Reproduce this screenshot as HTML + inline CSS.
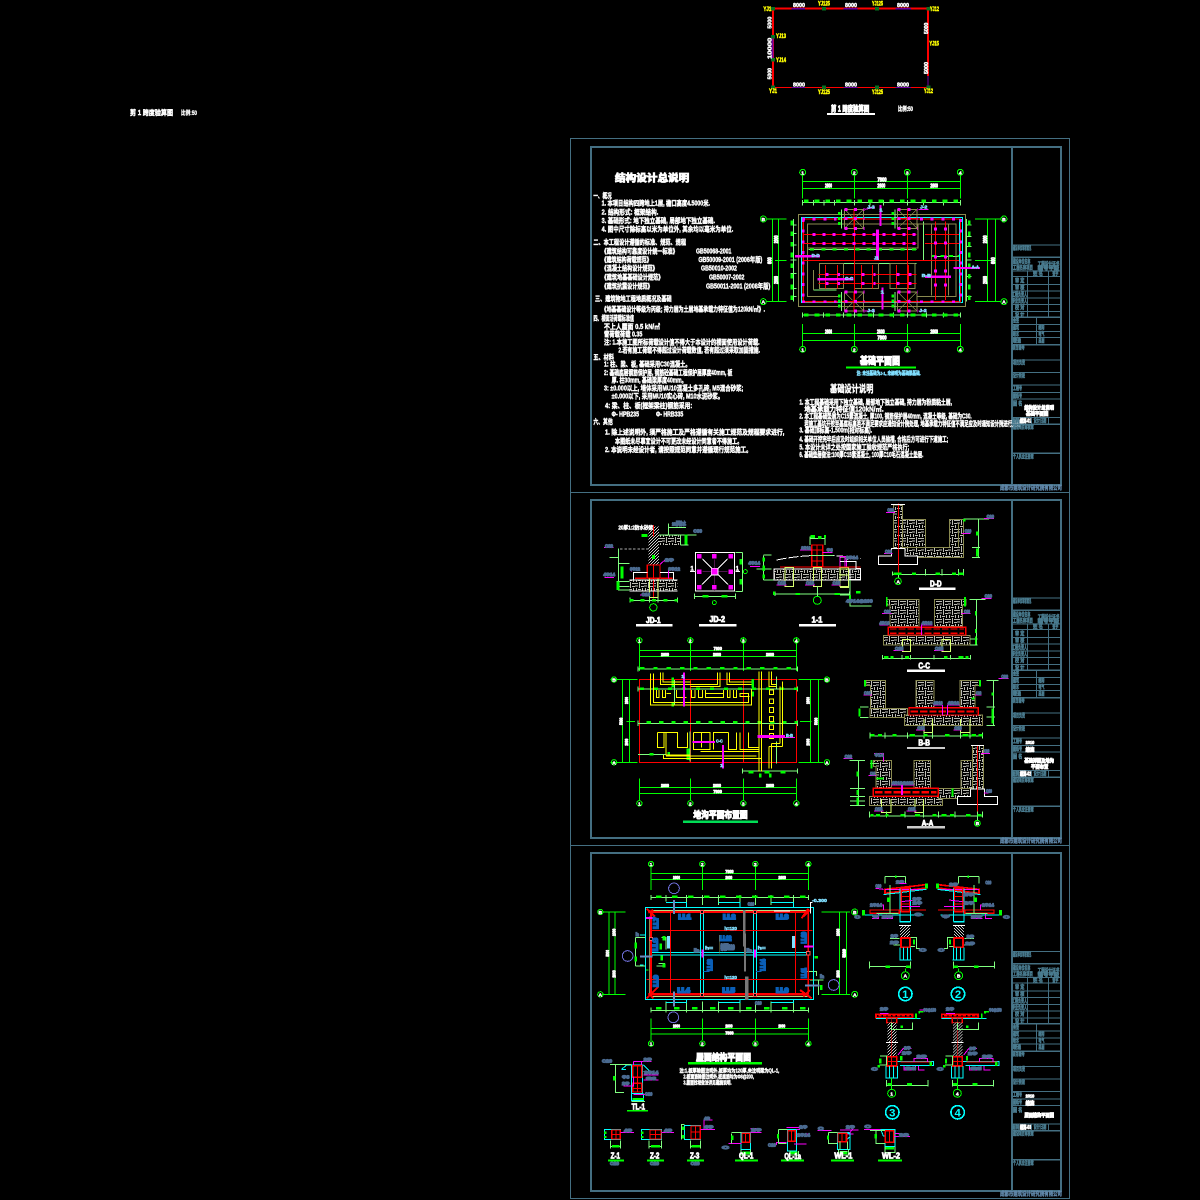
<!DOCTYPE html>
<html><head><meta charset="utf-8"><title>结构施工图</title>
<style>
html,body{margin:0;padding:0;background:#000;width:1200px;height:1200px;overflow:hidden}
svg{display:block;shape-rendering:crispEdges}
text{font-family:"Liberation Sans","Noto Sans CJK SC",sans-serif;font-weight:700}
.w{fill:#fff;stroke:#fff;stroke-width:1.3}
.wb{fill:#fff;stroke:#fff;stroke-width:2.5}
.y{fill:#ff0;stroke:#ff0;stroke-width:1.5;font-size:18px}
.bg{fill:#4a6a90;stroke:#4a6a90;stroke-width:3.5;font-size:15px}
.lb{fill:#80dfff;stroke:#80dfff;stroke-width:1.6;font-size:15px}
.bl{fill:#0a5fb8;stroke:#0a5fb8;stroke-width:6;font-size:18px}
.tb{fill:#4a7c90;stroke:#4a7c90;stroke-width:1.6;font-size:17px}
.gl{stroke:#0f0;stroke-width:3;fill:none}
.lg{stroke:#80ff80;stroke-width:3;fill:none}
.r{stroke:#f00;stroke-width:3;fill:none}
.m{stroke:#f0f;stroke-width:3;fill:none}
.c{stroke:#0ff;stroke-width:3;fill:none}
.ye{stroke:#ff0;stroke-width:3;fill:none}
.ol{stroke:#8a8a50;stroke-width:3;fill:none}
.wl{stroke:#fff;stroke-width:3;fill:none}
.yl{stroke:#d8ff70;stroke-width:3;fill:none}
</style></head><body>
<svg xmlns="http://www.w3.org/2000/svg" width="1200" height="1200" viewBox="0 0 1200 1200">
<defs>
<pattern id="h" width="27" height="27" patternUnits="userSpaceOnUse">
<rect width="27" height="27" fill="#000"/>
<path d="M0 2h9v3h-9zM12 0h3v9h-3zM18 3h9v3h-9zM3 9h3v9h-3zM9 12h9v3h-9zM21 9h3v9h-3zM0 21h9v3h-9zM12 18h3v9h-3zM18 21h9v3h-9z" fill="#c0c0b8"/>
</pattern>
<pattern id="d" width="9" height="9" patternUnits="userSpaceOnUse">
<rect width="9" height="9" fill="#000"/><path d="M0 0h3v3h-3zM6 3h3v3h-3zM3 6h3v3h-3z" fill="#ccc"/>
</pattern>
<g id="ft">
<rect x="0" y="0" width="58" height="57" class="ol"/>
<path d="M0 0L58 57M58 0L0 57" stroke="#8a8a50" stroke-width="2"/>
<path d="M29 -2V60M-2 28H60" class="r"/>
<path d="M0 0H60M0 28H60M0 57H60" stroke="#f0f" stroke-width="9" stroke-dasharray="9 20"/>
<path d="M-15 8V50" stroke="#0f0" stroke-width="7" stroke-dasharray="9 6"/>
<path d="M-8 0V57" class="lg"/>
</g>
<g id="det1">
<path d="M135 118L258 104V114L135 130Z" fill="#000" stroke="#f00" stroke-width="5"/>
<path d="M135 118H258" stroke="#f0f" stroke-width="3"/>
<path d="M130 134L260 118" class="c"/>
<rect x="183" y="115" width="27" height="70" fill="none" stroke="#f00" stroke-width="5"/>
<path d="M183 140H210M183 162H210" class="r"/>
<path d="M180 115V215M212 115V215M178 215H212" class="c"/>
<path d="M90 180H178V190H90ZM178 180H258" stroke="#f00" stroke-width="4" fill="none"/>
<path d="M66 195H250" class="c"/>
<path d="M90 165H130V180M96 205H116V190M125 205H158V195M185 170H240M185 155L225 150" class="m"/>
<path d="M135 80H197M135 80V100M197 80V100M150 105V190M110 190H175" class="lg"/>
<path d="M165 80H170" stroke="#0f0" stroke-width="8"/>
<path d="M146 142V156M260 100V115M70 180V196" stroke="#0f0" stroke-width="9"/>
<rect x="180" y="226" width="30" height="38" fill="url(#d)"/>
<path d="M177 226H213" class="wl"/>
<rect x="183" y="264" width="27" height="28" fill="none" stroke="#f00" stroke-width="5"/>
<path d="M180 292V330M190 292V330M202 292V330M212 292V330M178 330H214M178 216H212" class="c"/>
<path d="M150 265H178M160 285H180M212 262H230V295H240M212 290H225" class="lg"/>
<path d="M222 268V284" stroke="#0f0" stroke-width="7"/>
<path d="M88 335V355M212 335V355M88 350H212" class="lg"/>
<path d="M136 350H150M198 350H212" stroke="#0f0" stroke-width="7"/>
<circle cx="196" cy="377" r="12" class="gl"/>
<path d="M196 355V365" class="gl"/>
</g>
<g id="det3">
<path d="M108 493H218V503H108Z" fill="none" stroke="#f00" stroke-width="5"/>
<path d="M115 497H218" stroke="#f00" stroke-width="5" stroke-dasharray="10 4"/>
<path d="M108 506H242" class="c"/>
<path d="M228 491V505M238 491V485H250" stroke="#0f0" stroke-width="5"/>
<rect x="140" y="503" width="30" height="15" fill="none" stroke="#f00" stroke-width="4"/>
<rect x="142" y="518" width="28" height="60" fill="url(#d)"/>
<rect x="142" y="582" width="28" height="38" fill="url(#d)"/>
<path d="M138 577H174" class="wl"/>
<path d="M155 500V620" stroke="#f00" stroke-width="2"/>
<rect x="141" y="620" width="29" height="28" fill="none" stroke="#f00" stroke-width="5"/>
<path d="M141 634H170M155 620V648" class="r"/>
<path d="M138 648V684M148 648V684M160 648V684M172 648V684M136 684H174" class="c"/>
<path d="M172 634H280V646H180" class="c"/>
<path d="M182 636H275" stroke="#f00" stroke-width="4"/>
<path d="M222 636V625H262V636M192 648V660H226V648M235 648V660H254M174 615L190 595H214" class="m"/>
<path d="M120 618H140V645H118M155 518V538H218V518" class="lg"/>
<path d="M185 526V534M121 625V640M116 645V652M272 636V648M184 618V632" stroke="#0f0" stroke-width="7"/>
<path d="M140 690V710M264 690V710M140 706H264" class="lg"/>
<path d="M142 703H155M201 703H216" stroke="#0f0" stroke-width="7"/>
<path d="M155 684V718" class="gl"/>
<circle cx="155" cy="730" r="12" class="gl"/>
</g>
</defs>

<rect width="1200" height="1200" fill="#000"/>

<!-- sheet frames -->
<g fill="none" stroke="#446f82">
<rect x="570.5" y="138.5" width="499" height="1060"/>
<path d="M570 492.5H1070M570 845.5H1070"/>
<g stroke-width="2">
<rect x="591" y="147" width="470" height="338"/><path d="M1012 147V485"/>
<rect x="591" y="500" width="470" height="338"/><path d="M1012 500V838"/>
<rect x="591" y="853" width="470" height="338"/><path d="M1012 853V1191"/>
</g>
</g>
<g font-size="6" fill="#5f86a8">
<text x="1000" y="490" textLength="62" lengthAdjust="spacingAndGlyphs" stroke="#5f86a8" stroke-width=".4">成都市建筑设计研究院有限公司</text>
<text x="1000" y="843" textLength="62" lengthAdjust="spacingAndGlyphs" stroke="#5f86a8" stroke-width=".4">成都市建筑设计研究院有限公司</text>
<text x="1000" y="1196" textLength="62" lengthAdjust="spacingAndGlyphs" stroke="#5f86a8" stroke-width=".4">成都市建筑设计研究院有限公司</text>
</g>

<!-- top span diagram -->
<text x="130" y="115" font-size="7" class="w" style="stroke-width:.4" textLength="43" lengthAdjust="spacingAndGlyphs">剪 1 跨度验算图</text>
<text x="181" y="115" font-size="6" class="w" style="stroke-width:.3" textLength="16" lengthAdjust="spacingAndGlyphs">比例:50</text>
<g transform="translate(750,0) scale(.3333)">
<path d="M69 26H534M69 26V262M534 26V228" stroke="#f00" stroke-width="6" fill="none"/>
<path d="M69 262H534" stroke="#f00" stroke-width="3"/>
<path d="M534 228V262" stroke="#7000a0" stroke-width="4"/>
<path d="M125 26H165M280 26H322M437 26H483" stroke="#7000a0" stroke-width="5"/>
<path d="M125 262H165M280 262H322M437 262H483" stroke="#7000a0" stroke-width="3"/>
<path d="M68 112V175" stroke="#7000a0" stroke-width="6"/>
<path d="M63 26h12M216 26h12M375 26h12M529 26h12M63 110h12M63 179h12M63 262h12M216 262h12M375 262h12M529 262h12" stroke="#087020" stroke-width="10"/>
<g font-size="17">
<text x="129" y="21" class="w" textLength="36" lengthAdjust="spacingAndGlyphs">8000</text>
<text x="285" y="21" class="w" textLength="36" lengthAdjust="spacingAndGlyphs">8000</text>
<text x="441" y="21" class="w" textLength="36" lengthAdjust="spacingAndGlyphs">8000</text>
<text x="129" y="259" class="w" textLength="36" lengthAdjust="spacingAndGlyphs">8000</text>
<text x="285" y="259" class="w" textLength="36" lengthAdjust="spacingAndGlyphs">8000</text>
<text x="441" y="259" class="w" textLength="36" lengthAdjust="spacingAndGlyphs">8000</text>
<text x="64" y="86" class="w" transform="rotate(-90 64 86)" textLength="36" lengthAdjust="spacingAndGlyphs">5000</text>
<text x="64" y="177" class="w" transform="rotate(-90 64 177)" textLength="64" lengthAdjust="spacingAndGlyphs">10000</text>
<text x="65" y="238" class="w" transform="rotate(-90 65 238)" textLength="34" lengthAdjust="spacingAndGlyphs">5000</text>
<text x="534" y="102" class="w" transform="rotate(-90 534 102)" textLength="34" lengthAdjust="spacingAndGlyphs">5000</text>
<text x="534" y="222" class="w" transform="rotate(-90 534 222)" textLength="36" lengthAdjust="spacingAndGlyphs">5000</text>
</g>
<text x="40" y="33" class="y" textLength="24" lengthAdjust="spacingAndGlyphs">YJ1</text>
<text x="204" y="16" class="y" textLength="36" lengthAdjust="spacingAndGlyphs">YJ125</text>
<text x="366" y="16" class="y" textLength="33" lengthAdjust="spacingAndGlyphs">YJ125</text>
<text x="540" y="33" class="y" textLength="27" lengthAdjust="spacingAndGlyphs">YJ12</text>
<text x="78" y="114" class="y" textLength="30" lengthAdjust="spacingAndGlyphs">YJ13</text>
<text x="78" y="186" class="y" textLength="30" lengthAdjust="spacingAndGlyphs">YJ14</text>
<text x="538" y="136" class="y" textLength="29" lengthAdjust="spacingAndGlyphs">YJ15</text>
<text x="57" y="279" class="y" textLength="24" lengthAdjust="spacingAndGlyphs">YJ1</text>
<text x="204" y="282" class="y" textLength="36" lengthAdjust="spacingAndGlyphs">YJ125</text>
<text x="366" y="282" class="y" textLength="33" lengthAdjust="spacingAndGlyphs">YJ125</text>
<text x="522" y="279" class="y" textLength="27" lengthAdjust="spacingAndGlyphs">YJ12</text>
<text x="243" y="334" font-size="24" class="wb" textLength="115" lengthAdjust="spacingAndGlyphs">剪 1 跨度验算图</text>
<text x="444" y="333" font-size="18" class="w" textLength="45" lengthAdjust="spacingAndGlyphs">比例:50</text>
<path d="M231 342H375" stroke="#fff" stroke-width="5"/>
</g>

<!-- sheet 1: text -->
<g transform="translate(570,138) scale(.3333)" font-size="21" class="w">
<text x="135" y="130" font-size="30" class="wb" textLength="223" lengthAdjust="spacingAndGlyphs">结构设计总说明</text>
<text x="70" y="180" textLength="55" lengthAdjust="spacingAndGlyphs">一、概况</text>
<text x="95" y="203" textLength="325" lengthAdjust="spacingAndGlyphs">1. 本项目结构四跨地上1层, 檐口高度4.5000米.</text>
<text x="95" y="230" textLength="170" lengthAdjust="spacingAndGlyphs">2. 结构形式: 框架结构.</text>
<text x="95" y="255" textLength="340" lengthAdjust="spacingAndGlyphs">3. 基础形式: 地下独立基础, 局部地下独立基础.</text>
<text x="95" y="281" textLength="395" lengthAdjust="spacingAndGlyphs">4. 图中尺寸除标高以米为单位外, 其余均以毫米为单位.</text>
<text x="70" y="319" textLength="278" lengthAdjust="spacingAndGlyphs">二、本工程设计遵循的标准、规范、规程</text>
<text x="95" y="346" textLength="228" lengthAdjust="spacingAndGlyphs">《建筑结构可靠度设计统一标准》</text>
<text x="378" y="346" textLength="106" lengthAdjust="spacingAndGlyphs">GB50068-2001</text>
<text x="95" y="372" textLength="150" lengthAdjust="spacingAndGlyphs">《建筑结构荷载规范》</text>
<text x="385" y="372" textLength="192" lengthAdjust="spacingAndGlyphs">GB50009-2001 (2006年版)</text>
<text x="95" y="398" textLength="168" lengthAdjust="spacingAndGlyphs">《混凝土结构设计规范》</text>
<text x="393" y="398" textLength="108" lengthAdjust="spacingAndGlyphs">GB50010-2002</text>
<text x="95" y="425" textLength="185" lengthAdjust="spacingAndGlyphs">《建筑地基基础设计规范》</text>
<text x="417" y="425" textLength="106" lengthAdjust="spacingAndGlyphs">GB50007-2002</text>
<text x="95" y="452" textLength="153" lengthAdjust="spacingAndGlyphs">《建筑抗震设计规范》</text>
<text x="408" y="452" textLength="193" lengthAdjust="spacingAndGlyphs">GB50011-2001 (2008年版)</text>
<text x="75" y="489" textLength="230" lengthAdjust="spacingAndGlyphs">三、建筑物地工程地质概况及基础</text>
<text x="95" y="520" textLength="490" lengthAdjust="spacingAndGlyphs">《地基基础设计等级为丙级; 持力层为土层地基承载力特征值为120kN/㎡》.</text>
<text x="70" y="548" textLength="122" lengthAdjust="spacingAndGlyphs">四、楼面活荷载标准值</text>
<text x="102" y="573" textLength="168" lengthAdjust="spacingAndGlyphs">不上人屋面  0.5 kN/㎡</text>
<text x="102" y="595" textLength="115" lengthAdjust="spacingAndGlyphs">雪荷载荷载  0.35</text>
<text x="102" y="619" textLength="467" lengthAdjust="spacingAndGlyphs">注:  1.本施工图所标荷载设计值不得大于本设计的楼面使用设计荷载.</text>
<text x="145" y="644" textLength="425" lengthAdjust="spacingAndGlyphs">2.若有施工荷载不得超过设计荷载数值, 若有超过须采取加固措施.</text>
<text x="70" y="664" textLength="62" lengthAdjust="spacingAndGlyphs">五、材料</text>
<text x="102" y="686" textLength="260" lengthAdjust="spacingAndGlyphs">1: 柱、梁、板, 基础采用C30混凝土。</text>
<text x="102" y="711" textLength="385" lengthAdjust="spacingAndGlyphs">2: 基础底层钢筋保护层, 钢筋砼基础工程保护层厚度40mm, 板</text>
<text x="125" y="734" textLength="225" lengthAdjust="spacingAndGlyphs">厚. 柱30mm, 基础梁厚度40mm。</text>
<text x="102" y="757" textLength="418" lengthAdjust="spacingAndGlyphs">3: ±0.000以上, 墙体采用MU10混凝土多孔砖, M5混合砂浆;</text>
<text x="125" y="782" textLength="335" lengthAdjust="spacingAndGlyphs">±0.000以下, 采用MU10实心砖, M10水泥砂浆。</text>
<text x="105" y="810" textLength="262" lengthAdjust="spacingAndGlyphs">4: 梁、柱、板(框架梁柱)钢筋采用:</text>
<text x="125" y="835" textLength="82" lengthAdjust="spacingAndGlyphs">Φ- HPB235</text>
<text x="258" y="835" textLength="82" lengthAdjust="spacingAndGlyphs">Φ- HRB335</text>
<text x="70" y="858" textLength="58" lengthAdjust="spacingAndGlyphs">六、其他</text>
<text x="105" y="890" textLength="538" lengthAdjust="spacingAndGlyphs">1.  除上述说明外, 须严格施工及严格遵循有关施工规范及规程要求进行,</text>
<text x="135" y="916" textLength="382" lengthAdjust="spacingAndGlyphs">本图纸未尽事宜设计不可更改未经设计同意者不得施工。</text>
<text x="105" y="942" textLength="440" lengthAdjust="spacingAndGlyphs">2.  本说明未经设计者, 请按照规范同意并遵循现行规范施工。</text>
</g>

<!-- sheet 1: plan -->
<g transform="translate(750,150) scale(.3333)">
<path d="M158 75V145M313 75V145M472 75V145M631 75V145M158 95H631M158 115H631M158 522V590M313 522V590M472 522V590M631 522V590M158 550H631M158 572H631M50 207H110M50 455H110M67 207V455M85 207V455M75 331H110M675 207H752M675 455H752M712 207V455M736 207V455M675 331H735" class="gl"/>
<path d="M158 158H631M158 495H631M130 207V455M650 207V455M175 298H500M520 215V330M545 320H630M190 420H260M215 340H500" class="lg"/>
<path d="M158 150V166M190 150V166M222 150V166M254 150V166M313 150V166M360 150V166M400 150V166M472 150V166M520 150V166M580 150V166M631 150V166M158 488V502M220 488V502M280 488V502M313 488V502M370 488V502M430 488V502M472 488V502M530 488V502M580 488V502M631 488V502M122 225H140M122 250H140M122 285H140M122 330H140M122 370H140M122 415H140M122 440H140M650 225H664M650 260H664M650 290H664M650 330H664M650 380H664M650 440H664" class="lg"/>
<path d="M162 153H631" stroke="#0f0" stroke-width="8" stroke-dasharray="14 18"/>
<path d="M162 495H631" stroke="#0f0" stroke-width="8" stroke-dasharray="14 18"/>
<path d="M125 212V450" stroke="#0f0" stroke-width="8" stroke-dasharray="14 18"/>
<path d="M658 212V450" stroke="#0f0" stroke-width="8" stroke-dasharray="14 18"/>
<path d="M180 298H500" stroke="#0f0" stroke-width="7" stroke-dasharray="12 22"/>
<path d="M545 318H630" stroke="#0f0" stroke-width="7" stroke-dasharray="12 14"/>
<rect x="145" y="193" width="502" height="277" class="ol"/>
<rect x="172" y="222" width="332" height="72" class="ol"/>
<path d="M172 294V440H270M500 440H618V222H504M545 222V437M596 222V437M190 360V420" class="ol"/>
<rect x="208" y="340" width="72" height="75" class="ol"/>
<rect x="313" y="340" width="72" height="75" class="ol"/>
<rect x="420" y="340" width="75" height="75" class="ol"/>
<path d="M160 253H500M525 253H630M160 281H500M525 281H630M160 331H630M205 373H500M205 400H500M226 345V415M262 345V415M335 345V415M367 345V415M439 345V415M475 345V415M313 210V450M472 210V450M556 215V450M586 215V450" class="r"/>
<rect x="155" y="203" width="482" height="255" class="c"/>
<rect x="160" y="207" width="471" height="248" fill="none" stroke="#f00" stroke-width="4"/>
<path d="M628 207V455" stroke="#0ff" stroke-width="3"/>
<use href="#ft" x="283" y="178"/><use href="#ft" x="443" y="178"/><use href="#ft" x="283" y="426"/><use href="#ft" x="443" y="426"/>
<path d="M188 253H500M188 281H500" stroke="#f0f" stroke-width="9" stroke-dasharray="9 21"/>
<path d="M226 373H270M226 400H270M334 373H376M334 400H376M439 373H484M439 400H484" stroke="#f0f" stroke-width="9" stroke-dasharray="9 27"/>
<path d="M556 232V430M586 232V430" stroke="#f0f" stroke-width="9" stroke-dasharray="9 33"/>
<path d="M156 207H260M510 207H630M156 455H260M510 455H630M160 207V455M632 207V455" stroke="#f0f" stroke-width="8" stroke-dasharray="9 23"/>
<path d="M135 319H210M202 388H310M610 354H690M525 380H603" stroke="#f0f" stroke-width="7"/>
<path d="M382 238V330" stroke="#f0f" stroke-width="9"/>
<path d="M392 165V228M398 412V478" stroke="#f0f" stroke-width="6"/>
<path d="M345 178L375 172M505 178H535M345 483H375M505 483H530" class="m"/>
<g class="lb">
<text x="185" y="321" textLength="24" lengthAdjust="spacingAndGlyphs">D-D</text>
<text x="285" y="390" textLength="25" lengthAdjust="spacingAndGlyphs">C-C</text>
<text x="515" y="381" textLength="28" lengthAdjust="spacingAndGlyphs">B-B</text>
<text x="665" y="355" textLength="22" lengthAdjust="spacingAndGlyphs">A-A</text>
<text x="352" y="175" textLength="22" lengthAdjust="spacingAndGlyphs">J-2</text>
<text x="510" y="175" textLength="22" lengthAdjust="spacingAndGlyphs">J-2</text>
<text x="352" y="486" textLength="22" lengthAdjust="spacingAndGlyphs">J-2</text>
<text x="508" y="486" textLength="22" lengthAdjust="spacingAndGlyphs">J-2</text>
<text x="372" y="328" textLength="14" lengthAdjust="spacingAndGlyphs">J1</text>
<text x="388" y="185" textLength="10" lengthAdjust="spacingAndGlyphs">1</text>
<text x="392" y="430" textLength="10" lengthAdjust="spacingAndGlyphs">1</text>
</g>
<g class="gl">
<circle cx="158" cy="67" r="9"/><circle cx="313" cy="67" r="9"/><circle cx="472" cy="67" r="9"/><circle cx="631" cy="67" r="9"/>
<circle cx="158" cy="598" r="9"/><circle cx="313" cy="598" r="9"/><circle cx="472" cy="598" r="9"/><circle cx="631" cy="598" r="9"/>
<circle cx="40" cy="207" r="9"/><circle cx="40" cy="455" r="9"/><circle cx="762" cy="207" r="9"/><circle cx="762" cy="455" r="9"/>
</g>
<g font-size="15" class="w" text-anchor="middle">
<text x="158" y="73">1</text><text x="313" y="73">2</text><text x="472" y="73">3</text><text x="631" y="73">4</text>
<text x="158" y="604">1</text><text x="313" y="604">2</text><text x="472" y="604">3</text><text x="631" y="604">4</text>
<text x="40" y="213">B</text><text x="40" y="461">A</text><text x="762" y="213">B</text><text x="762" y="461">A</text>
</g>
<g font-size="16" class="wb">
<text x="382" y="94" textLength="28" lengthAdjust="spacingAndGlyphs">7800</text>
<text x="225" y="113" textLength="21" lengthAdjust="spacingAndGlyphs">2600</text>
<text x="382" y="113" textLength="24" lengthAdjust="spacingAndGlyphs">2600</text>
<text x="541" y="113" textLength="23" lengthAdjust="spacingAndGlyphs">2600</text>
<text x="225" y="550" textLength="21" lengthAdjust="spacingAndGlyphs">2600</text>
<text x="381" y="550" textLength="23" lengthAdjust="spacingAndGlyphs">2600</text>
<text x="541" y="550" textLength="23" lengthAdjust="spacingAndGlyphs">2600</text>
<text x="382" y="569" textLength="28" lengthAdjust="spacingAndGlyphs">7800</text>
<text x="84" y="280" transform="rotate(-90 84 280)" textLength="24" lengthAdjust="spacingAndGlyphs">2000</text>
<text x="84" y="402" transform="rotate(-90 84 402)" textLength="24" lengthAdjust="spacingAndGlyphs">2000</text>
<text x="65" y="342" transform="rotate(-90 65 342)" textLength="20" lengthAdjust="spacingAndGlyphs">600</text>
<text x="711" y="280" transform="rotate(-90 711 280)" textLength="24" lengthAdjust="spacingAndGlyphs">2000</text>
<text x="711" y="402" transform="rotate(-90 711 402)" textLength="24" lengthAdjust="spacingAndGlyphs">2000</text>
<text x="735" y="342" transform="rotate(-90 735 342)" textLength="20" lengthAdjust="spacingAndGlyphs">600</text>
</g>
<text x="330" y="643" font-size="30" class="wb" style="stroke-width:3" textLength="120" lengthAdjust="spacingAndGlyphs">基础平面图</text>
<path d="M288 653H498" stroke="#0f0" stroke-width="6"/>
<text x="320" y="675" font-size="19" class="lb" textLength="192" lengthAdjust="spacingAndGlyphs">注: 未注基础为J-1, 未标明为基础梁基础.</text>
<text x="240" y="728" font-size="30" class="w" textLength="130" lengthAdjust="spacingAndGlyphs">基础设计说明</text>
<g font-size="21" class="w">
<text x="148" y="763" textLength="458" lengthAdjust="spacingAndGlyphs">1. 本工程基础采用下独立基础, 局部地下独立基础, 持力层为粉质黏土层,</text>
<text x="163" y="784" textLength="238" lengthAdjust="spacingAndGlyphs">地基承载力特征值120kN/㎡.</text>
<text x="148" y="806" textLength="517" lengthAdjust="spacingAndGlyphs">2. 本工程基础垫层为C15素混凝土, 厚100, 钢筋保护层40mm, 混凝土等级, 基础为C30.</text>
<text x="163" y="828" textLength="650" lengthAdjust="spacingAndGlyphs">若施工基坑开挖至基底标高若不满足要求应通知设计院处理, 地基承载力特征值不满足应及时通知设计院进行处理</text>
<text x="148" y="848" textLength="218" lengthAdjust="spacingAndGlyphs">3. 基础顶标高-1.500m(相对标高).</text>
<text x="148" y="874" textLength="447" lengthAdjust="spacingAndGlyphs">4. 基础开挖完毕后应及时组织相关单位人员验槽, 合格后方可进行下道施工;</text>
<text x="148" y="898" textLength="330" lengthAdjust="spacingAndGlyphs">5. 本设计未详之处按国家施工验收规范严格执行;</text>
<text x="148" y="921" textLength="372" lengthAdjust="spacingAndGlyphs">6. 基础垫层做法:100厚C15素混凝土, 100厚C10毛石混凝土垫层.</text>
</g>
</g>

<!-- title blocks -->
<g transform="translate(1005,230) scale(.3333)">
<path d="M18 45H165M18 123H165M18 140H165M18 163H165M18 183H165M18 204H165M18 224H165M18 244H165M18 283H165M18 304H165M18 323H165M18 390H165M18 427H165M18 465H165M18 487H165M18 507H165M18 563H165M67 123V262M130 123V262M94 262V344M42 563V583M80 563V583M130 563V583" stroke="#446f82" stroke-width="3" fill="none"/>
<path d="M18 82H165M18 262H165M18 344H165M18 583H165M18 670H165" stroke="#446f82" stroke-width="5" fill="none"/>
<g class="tb">
<text x="24" y="60" textLength="55" lengthAdjust="spacingAndGlyphs">建设单位审核意见</text>
<text x="24" y="100" textLength="52" lengthAdjust="spacingAndGlyphs">建设单位名称</text>
<text x="24" y="118" textLength="60" lengthAdjust="spacingAndGlyphs">工程名称项目</text>
<text x="98" y="108" textLength="65" lengthAdjust="spacingAndGlyphs">工程设计证书</text>
<text x="98" y="120" textLength="65" lengthAdjust="spacingAndGlyphs">编号甲级</text>
<text x="84" y="137" textLength="30" lengthAdjust="spacingAndGlyphs">姓 名</text>
<text x="142" y="137" textLength="18" lengthAdjust="spacingAndGlyphs">签字</text>
<text x="30" y="158" textLength="28" lengthAdjust="spacingAndGlyphs">审 定</text>
<text x="30" y="179" textLength="28" lengthAdjust="spacingAndGlyphs">审 核</text>
<text x="21" y="199" textLength="45" lengthAdjust="spacingAndGlyphs">工程负责人</text>
<text x="21" y="219" textLength="45" lengthAdjust="spacingAndGlyphs">专业负责人</text>
<text x="30" y="238" textLength="28" lengthAdjust="spacingAndGlyphs">校 对</text>
<text x="30" y="259" textLength="28" lengthAdjust="spacingAndGlyphs">设 计</text>
<text x="24" y="278" textLength="18" lengthAdjust="spacingAndGlyphs">会签</text>
<text x="24" y="298" textLength="18" lengthAdjust="spacingAndGlyphs">建筑</text>
<text x="100" y="298" textLength="18" lengthAdjust="spacingAndGlyphs">结构</text>
<text x="24" y="318" textLength="18" lengthAdjust="spacingAndGlyphs">给水</text>
<text x="100" y="318" textLength="18" lengthAdjust="spacingAndGlyphs">电气</text>
<text x="24" y="338" textLength="24" lengthAdjust="spacingAndGlyphs">暖通</text>
<text x="100" y="338" textLength="18" lengthAdjust="spacingAndGlyphs">总图</text>
<text x="21" y="358" textLength="38" lengthAdjust="spacingAndGlyphs">项目编号</text>
<text x="24" y="404" textLength="36" lengthAdjust="spacingAndGlyphs">项目负责</text>
<text x="24" y="442" textLength="36" lengthAdjust="spacingAndGlyphs">设计阶段</text>
<text x="24" y="480" textLength="27" lengthAdjust="spacingAndGlyphs">工程号</text>
<text x="24" y="502" textLength="27" lengthAdjust="spacingAndGlyphs">图纸号</text>
<text x="24" y="527" textLength="28" lengthAdjust="spacingAndGlyphs">图 名</text>
<text x="21" y="577" textLength="20" lengthAdjust="spacingAndGlyphs">图别</text>
<text x="86" y="577" textLength="38" lengthAdjust="spacingAndGlyphs">设计日期</text>
<text x="24" y="597" textLength="62" lengthAdjust="spacingAndGlyphs">建设项目审核章</text>
<text x="24" y="685" textLength="62" lengthAdjust="spacingAndGlyphs">个人执业注册章</text>
</g>
<text x="58" y="538" font-size="16" class="wb" textLength="89" lengthAdjust="spacingAndGlyphs">结构设计总说明</text>
<text x="63" y="556" font-size="16" class="wb" textLength="67" lengthAdjust="spacingAndGlyphs">基础平面图</text>
<text x="45" y="578" font-size="16" class="wb" textLength="33" lengthAdjust="spacingAndGlyphs">结施-01</text>
</g>
<g transform="translate(1005,583) scale(.3333)">
<path d="M18 45H165M18 123H165M18 140H165M18 163H165M18 183H165M18 204H165M18 224H165M18 244H165M18 283H165M18 304H165M18 323H165M18 390H165M18 427H165M18 465H165M18 487H165M18 507H165M18 563H165M67 123V262M130 123V262M94 262V344M42 563V583M80 563V583M130 563V583" stroke="#446f82" stroke-width="3" fill="none"/>
<path d="M18 82H165M18 262H165M18 344H165M18 583H165M18 670H165" stroke="#446f82" stroke-width="5" fill="none"/>
<g class="tb">
<text x="24" y="60" textLength="55" lengthAdjust="spacingAndGlyphs">建设单位审核意见</text>
<text x="24" y="100" textLength="52" lengthAdjust="spacingAndGlyphs">建设单位名称</text>
<text x="24" y="118" textLength="60" lengthAdjust="spacingAndGlyphs">工程名称项目</text>
<text x="98" y="108" textLength="65" lengthAdjust="spacingAndGlyphs">工程设计证书</text>
<text x="98" y="120" textLength="65" lengthAdjust="spacingAndGlyphs">编号甲级</text>
<text x="84" y="137" textLength="30" lengthAdjust="spacingAndGlyphs">姓 名</text>
<text x="142" y="137" textLength="18" lengthAdjust="spacingAndGlyphs">签字</text>
<text x="30" y="158" textLength="28" lengthAdjust="spacingAndGlyphs">审 定</text>
<text x="30" y="179" textLength="28" lengthAdjust="spacingAndGlyphs">审 核</text>
<text x="21" y="199" textLength="45" lengthAdjust="spacingAndGlyphs">工程负责人</text>
<text x="21" y="219" textLength="45" lengthAdjust="spacingAndGlyphs">专业负责人</text>
<text x="30" y="238" textLength="28" lengthAdjust="spacingAndGlyphs">校 对</text>
<text x="30" y="259" textLength="28" lengthAdjust="spacingAndGlyphs">设 计</text>
<text x="24" y="278" textLength="18" lengthAdjust="spacingAndGlyphs">会签</text>
<text x="24" y="298" textLength="18" lengthAdjust="spacingAndGlyphs">建筑</text>
<text x="100" y="298" textLength="18" lengthAdjust="spacingAndGlyphs">结构</text>
<text x="24" y="318" textLength="18" lengthAdjust="spacingAndGlyphs">给水</text>
<text x="100" y="318" textLength="18" lengthAdjust="spacingAndGlyphs">电气</text>
<text x="24" y="338" textLength="24" lengthAdjust="spacingAndGlyphs">暖通</text>
<text x="100" y="338" textLength="18" lengthAdjust="spacingAndGlyphs">总图</text>
<text x="21" y="358" textLength="38" lengthAdjust="spacingAndGlyphs">项目编号</text>
<text x="24" y="404" textLength="36" lengthAdjust="spacingAndGlyphs">项目负责</text>
<text x="24" y="442" textLength="36" lengthAdjust="spacingAndGlyphs">设计阶段</text>
<text x="24" y="480" textLength="27" lengthAdjust="spacingAndGlyphs">工程号</text>
<text x="24" y="502" textLength="27" lengthAdjust="spacingAndGlyphs">图纸号</text>
<text x="24" y="527" textLength="28" lengthAdjust="spacingAndGlyphs">图 名</text>
<text x="21" y="577" textLength="20" lengthAdjust="spacingAndGlyphs">图别</text>
<text x="86" y="577" textLength="38" lengthAdjust="spacingAndGlyphs">设计日期</text>
<text x="24" y="597" textLength="62" lengthAdjust="spacingAndGlyphs">建设项目审核章</text>
<text x="24" y="685" textLength="62" lengthAdjust="spacingAndGlyphs">个人执业注册章</text>
</g>
<text x="62" y="483" font-size="15" class="wb" textLength="26" lengthAdjust="spacingAndGlyphs">2010</text>
<text x="62" y="505" font-size="15" class="wb" textLength="26" lengthAdjust="spacingAndGlyphs">结施</text>
<text x="58" y="538" font-size="16" class="wb" textLength="89" lengthAdjust="spacingAndGlyphs">基础详图及地沟</text>
<text x="78" y="556" font-size="16" class="wb" textLength="52" lengthAdjust="spacingAndGlyphs">平面布置</text>
<text x="45" y="578" font-size="16" class="wb" textLength="33" lengthAdjust="spacingAndGlyphs">结施-02</text>
</g>
<g transform="translate(1005,936.500) scale(.3333)">
<path d="M18 45H165M18 123H165M18 140H165M18 163H165M18 183H165M18 204H165M18 224H165M18 244H165M18 283H165M18 304H165M18 323H165M18 390H165M18 427H165M18 465H165M18 487H165M18 507H165M18 563H165M67 123V262M130 123V262M94 262V344M42 563V583M80 563V583M130 563V583" stroke="#446f82" stroke-width="3" fill="none"/>
<path d="M18 82H165M18 262H165M18 344H165M18 583H165M18 670H165" stroke="#446f82" stroke-width="5" fill="none"/>
<g class="tb">
<text x="24" y="60" textLength="55" lengthAdjust="spacingAndGlyphs">建设单位审核意见</text>
<text x="24" y="100" textLength="52" lengthAdjust="spacingAndGlyphs">建设单位名称</text>
<text x="24" y="118" textLength="60" lengthAdjust="spacingAndGlyphs">工程名称项目</text>
<text x="98" y="108" textLength="65" lengthAdjust="spacingAndGlyphs">工程设计证书</text>
<text x="98" y="120" textLength="65" lengthAdjust="spacingAndGlyphs">编号甲级</text>
<text x="84" y="137" textLength="30" lengthAdjust="spacingAndGlyphs">姓 名</text>
<text x="142" y="137" textLength="18" lengthAdjust="spacingAndGlyphs">签字</text>
<text x="30" y="158" textLength="28" lengthAdjust="spacingAndGlyphs">审 定</text>
<text x="30" y="179" textLength="28" lengthAdjust="spacingAndGlyphs">审 核</text>
<text x="21" y="199" textLength="45" lengthAdjust="spacingAndGlyphs">工程负责人</text>
<text x="21" y="219" textLength="45" lengthAdjust="spacingAndGlyphs">专业负责人</text>
<text x="30" y="238" textLength="28" lengthAdjust="spacingAndGlyphs">校 对</text>
<text x="30" y="259" textLength="28" lengthAdjust="spacingAndGlyphs">设 计</text>
<text x="24" y="278" textLength="18" lengthAdjust="spacingAndGlyphs">会签</text>
<text x="24" y="298" textLength="18" lengthAdjust="spacingAndGlyphs">建筑</text>
<text x="100" y="298" textLength="18" lengthAdjust="spacingAndGlyphs">结构</text>
<text x="24" y="318" textLength="18" lengthAdjust="spacingAndGlyphs">给水</text>
<text x="100" y="318" textLength="18" lengthAdjust="spacingAndGlyphs">电气</text>
<text x="24" y="338" textLength="24" lengthAdjust="spacingAndGlyphs">暖通</text>
<text x="100" y="338" textLength="18" lengthAdjust="spacingAndGlyphs">总图</text>
<text x="21" y="358" textLength="38" lengthAdjust="spacingAndGlyphs">项目编号</text>
<text x="24" y="404" textLength="36" lengthAdjust="spacingAndGlyphs">项目负责</text>
<text x="24" y="442" textLength="36" lengthAdjust="spacingAndGlyphs">设计阶段</text>
<text x="24" y="480" textLength="27" lengthAdjust="spacingAndGlyphs">工程号</text>
<text x="24" y="502" textLength="27" lengthAdjust="spacingAndGlyphs">图纸号</text>
<text x="24" y="527" textLength="28" lengthAdjust="spacingAndGlyphs">图 名</text>
<text x="21" y="577" textLength="20" lengthAdjust="spacingAndGlyphs">图别</text>
<text x="86" y="577" textLength="38" lengthAdjust="spacingAndGlyphs">设计日期</text>
<text x="24" y="597" textLength="62" lengthAdjust="spacingAndGlyphs">建设项目审核章</text>
<text x="24" y="685" textLength="62" lengthAdjust="spacingAndGlyphs">个人执业注册章</text>
</g>
<text x="62" y="483" font-size="15" class="wb" textLength="26" lengthAdjust="spacingAndGlyphs">2010</text>
<text x="62" y="505" font-size="15" class="wb" textLength="26" lengthAdjust="spacingAndGlyphs">结施</text>
<text x="58" y="542" font-size="16" class="wb" textLength="89" lengthAdjust="spacingAndGlyphs">屋面结构平面图</text>
<text x="45" y="578" font-size="16" class="wb" textLength="33" lengthAdjust="spacingAndGlyphs">结施-03</text>
</g>

<!-- sheet 2: left -->
<g transform="translate(590,495) scale(.3333)">
<!-- JD-1 -->
<rect x="175" y="95" width="32" height="115" fill="url(#d)"/>
<rect x="207" y="120" width="65" height="30" fill="url(#h)"/>
<rect x="118" y="255" width="145" height="33" fill="url(#h)"/>
<path d="M90 162H175" stroke="#aaa" stroke-width="3" stroke-dasharray="8 5"/>
<path d="M190 90V125M190 210V310" class="r"/>
<path d="M172 250V210H210V250M172 250H210M135 250H170M212 250H248" stroke="#f00" stroke-width="4" fill="none"/>
<path d="M130 255V232H172M250 255V232H210M118 255H263M118 288H263" class="wl"/>
<path d="M178 250V308H204V250" class="yl"/>
<path d="M85 160V285H118M85 205H118M85 260H118M85 285H115M235 85V118M235 97H288M207 120H320M272 120V150M272 150H295" class="lg"/>
<path d="M58 187H85M80 260H118M82 275H118" class="lg"/>
<path d="M96 215V250M84 260V285M288 118V148M155 122H172M190 180V192" stroke="#0f0" stroke-width="9"/>
<path d="M120 316H262M120 308V323M178 308V323M204 308V323M262 308V323" class="lg"/>
<path d="M118 316H262" stroke="#0f0" stroke-width="8" stroke-dasharray="12 22"/>
<circle cx="190" cy="337" r="11" class="gl"/>
<path d="M125 230V220M240 225H270M235 225V250M150 300H180M42 158H70M44 248H72M210 208L225 195" class="m"/>
<g class="bg">
<text x="246" y="92" textLength="42" lengthAdjust="spacingAndGlyphs">20厚防水</text>
<text x="310" y="113" textLength="26" lengthAdjust="spacingAndGlyphs">C30</text>
<text x="45" y="157" textLength="24" lengthAdjust="spacingAndGlyphs">C30</text>
<text x="225" y="200" textLength="26" lengthAdjust="spacingAndGlyphs">2Φ</text>
<text x="120" y="226" textLength="30" lengthAdjust="spacingAndGlyphs">3Φ12</text>
<text x="235" y="227" textLength="35" lengthAdjust="spacingAndGlyphs">3Φ12</text>
<text x="40" y="243" textLength="35" lengthAdjust="spacingAndGlyphs">4Φ14</text>
<text x="155" y="303" textLength="25" lengthAdjust="spacingAndGlyphs">C15</text>
</g>
<text x="85" y="103" font-size="16" class="w" textLength="105" lengthAdjust="spacingAndGlyphs">20厚1:2防水砂浆</text>
<text x="168" y="384" font-size="24" class="wb" textLength="44" lengthAdjust="spacingAndGlyphs">JD-1</text>
<path d="M138 391H248" stroke="#fff" stroke-width="8"/>
<!-- JD-2 -->
<path d="M317 172H433V288H317ZM331 186L419 274M419 186L331 274" class="wl"/>
<path d="M373 172V288M317 230H433" stroke="#a030a0" stroke-width="2"/>
<g fill="#f0f" stroke="#000" stroke-width="2">
<rect x="320" y="176" width="16" height="16"/><rect x="365" y="176" width="16" height="16"/><rect x="414" y="176" width="16" height="16"/>
<rect x="320" y="222" width="16" height="16"/><rect x="414" y="222" width="16" height="16"/>
<rect x="320" y="269" width="16" height="16"/><rect x="365" y="269" width="16" height="16"/><rect x="414" y="269" width="16" height="16"/>
<rect x="364" y="220" width="20" height="20"/>
</g>
<path d="M364 220h20v20h-20z" fill="none" stroke="#fff" stroke-width="2"/>
<path d="M458 172V290M437 172H458M437 290H458M313 304H437M313 296V312M437 296V312" class="lg"/>
<path d="M452 192V208M452 252V268M337 304H355M395 304H412" stroke="#0f0" stroke-width="8"/>
<circle cx="373" cy="323" r="6" class="gl"/><circle cx="466" cy="230" r="6" class="gl"/>
<text x="301" y="226" font-size="18" class="w">1</text><text x="437" y="226" font-size="18" class="w">1</text>
<path d="M300 229H315M437 229H450" class="wl"/>
<text x="358" y="381" font-size="24" class="wb" textLength="47" lengthAdjust="spacingAndGlyphs">JD-2</text>
<path d="M327 391H440" stroke="#fff" stroke-width="8"/>
<!-- 1-1 -->
<path d="M560 195Q680 170 812 190" stroke="#fff" stroke-width="3" fill="none" stroke-dasharray="30 6"/>
<rect x="552" y="222" width="260" height="33" fill="url(#h)"/>
<rect x="552" y="222" width="260" height="33" class="wl"/>
<path d="M570 216H812" stroke="#f00" stroke-width="4"/>
<rect x="665" y="150" width="33" height="65" fill="none" stroke="#f00" stroke-width="4"/>
<path d="M665 165H698M665 182H698M665 198H698M681 150V215" class="r"/>
<path d="M660 130H705M660 125V150M705 125V150M660 182H730" class="lg"/>
<path d="M662 125H675M684 128H695M702 125H708" stroke="#0f0" stroke-width="9"/>
<path d="M585 218H610V275H585ZM670 218H695V275H670ZM750 218H775V275H750Z" class="yl"/>
<path d="M520 180H545M500 222H545M520 182V255M520 255H550" class="lg"/>
<path d="M521 188V200M521 212V228M521 238V250" stroke="#0f0" stroke-width="8"/>
<path d="M555 290V303M682 275V303M778 290V303M555 297H780" class="lg"/>
<path d="M616 297H630M733 297H750M552 290V300" stroke="#0f0" stroke-width="7"/>
<circle cx="682" cy="316" r="12" class="gl"/>
<path d="M630 165H665M698 172H728M560 270H590M645 270H675M725 270H752M480 215H510" class="m"/>
<path d="M750 215V185H770V215" class="m"/>
<g class="bg">
<text x="634" y="164" textLength="28" lengthAdjust="spacingAndGlyphs">3Φ16</text>
<text x="710" y="170" textLength="18" lengthAdjust="spacingAndGlyphs">Φ8</text>
<text x="475" y="209" textLength="35" lengthAdjust="spacingAndGlyphs">4Φ14</text>
<text x="563" y="269" textLength="24" lengthAdjust="spacingAndGlyphs">C15</text>
<text x="648" y="269" textLength="24" lengthAdjust="spacingAndGlyphs">C15</text>
<text x="728" y="269" textLength="22" lengthAdjust="spacingAndGlyphs">C15</text>
</g>
<text x="665" y="383" font-size="24" class="wb" textLength="32" lengthAdjust="spacingAndGlyphs">1-1</text>
<path d="M627 391H738" stroke="#fff" stroke-width="8"/>

<!-- trench plan -->
<path d="M148 553H619V802H148ZM301 553V802M460 553V802" class="r"/>
<path d="M148 428V528M301 428V528M460 428V528M619 428V528M148 466H619M148 484H619M148 850V918M301 850V918M460 850V918M619 850V918M148 878H619M148 895H619M62 554H143M62 802H143M97 554V802M118 554V802M110 679H135M625 554H700M625 802H700M661 554V802M685 554V802M630 679H665" class="gl"/>
<path d="M144 522H622M144 582H622M144 685H622M458 828H622M144 778H230M254 555V630M560 545V580M560 740V805M300 710V800M144 514V530M622 514V530M144 574V590M622 574V590M144 677V693M622 677V693M458 820V836M622 820V836" class="lg"/>
<path d="M150 520H622" stroke="#0f0" stroke-width="8" stroke-dasharray="13 27"/>
<path d="M150 581H622" stroke="#0f0" stroke-width="7" stroke-dasharray="12 30"/>
<path d="M170 682H622" stroke="#0f0" stroke-width="8" stroke-dasharray="13 24"/>
<path d="M475 832H590" stroke="#0f0" stroke-width="8" stroke-dasharray="15 33"/>
<path d="M511 835V848M541 835V848M178 778H190M232 775H240M248 548V578M248 622V634M488 552V578M488 590V605M294 760V795" stroke="#0f0" stroke-width="8"/>
<path d="M182 535V630H485V582M190 535V622H476V596H450V605H478" class="ye"/>
<path d="M211 532V568H301M219 532V561H301M382 532V568H301M390 532V575H301M411 532V568H485M419 532V561H485" class="ye"/>
<path d="M507 530V830M515 530V830M537 530V575H560M545 530V568H560M570 575V745M578 560V755M537 755V820M545 745V820H545M537 755H578M545 745H570" class="ye"/>
<path d="M199 585V608H207V585M217 585V608H227V585M305 585V608H315V585M325 585V608H338V585M346 585V608H400V585M346 596H400M412 585V608H420V585M430 585V608H440V585M260 585V608H290M230 596H243" class="ye"/>
<path d="M202 712V758H222V712M202 712H262V758H292V712M228 712V780H300M310 712V763H360V712H310M335 712V757M415 712V763H440V712M450 712V763H507M475 712V757H507M415 712H370V763" class="ye"/>
<path d="M220 780V790H507M228 783H500M507 790H515M332 770H507" class="ye"/>
<g fill="none" stroke="#ff0" stroke-width="3">
<rect x="538" y="585" width="12" height="14"/><rect x="538" y="612" width="12" height="14"/><rect x="538" y="638" width="12" height="14"/><rect x="538" y="665" width="12" height="14"/><rect x="538" y="690" width="12" height="14"/><rect x="538" y="716" width="12" height="14"/>
</g>
<path d="M282 532V635M399 750V820" stroke="#f0f" stroke-width="5"/>
<path d="M307 741H375" stroke="#f0f" stroke-width="5"/>
<path d="M502 724H585" stroke="#f0f" stroke-width="9"/><path d="M585 727H615" stroke="#f0f" stroke-width="3"/>
<g class="lb">
<text x="274" y="549" textLength="9" lengthAdjust="spacingAndGlyphs">1</text>
<text x="390" y="816" textLength="10" lengthAdjust="spacingAndGlyphs">1</text>
<text x="378" y="742" textLength="20" lengthAdjust="spacingAndGlyphs">C-C</text>
<text x="588" y="726" textLength="21" lengthAdjust="spacingAndGlyphs">B-B</text>
</g>
<g class="gl">
<circle cx="148" cy="436" r="8"/><circle cx="301" cy="436" r="8"/><circle cx="460" cy="436" r="8"/><circle cx="619" cy="436" r="8"/>
<circle cx="148" cy="925" r="8"/><circle cx="301" cy="925" r="8"/><circle cx="460" cy="925" r="8"/><circle cx="619" cy="925" r="8"/>
<circle cx="72" cy="554" r="8"/><circle cx="72" cy="802" r="8"/><circle cx="711" cy="554" r="8"/><circle cx="711" cy="802" r="8"/>
</g>
<g font-size="15" class="w" text-anchor="middle">
<text x="148" y="442">1</text><text x="301" y="442">2</text><text x="460" y="442">3</text><text x="619" y="442">4</text>
<text x="148" y="931">1</text><text x="301" y="931">2</text><text x="460" y="931">3</text><text x="619" y="931">4</text>
<text x="72" y="560">B</text><text x="72" y="808">A</text><text x="711" y="560">B</text><text x="711" y="808">A</text>
</g>
<g font-size="15" class="wb">
<text x="371" y="465" textLength="25" lengthAdjust="spacingAndGlyphs">7800</text>
<text x="213" y="483" textLength="24" lengthAdjust="spacingAndGlyphs">2600</text>
<text x="369" y="483" textLength="24" lengthAdjust="spacingAndGlyphs">2600</text>
<text x="528" y="483" textLength="24" lengthAdjust="spacingAndGlyphs">2600</text>
<text x="213" y="876" textLength="24" lengthAdjust="spacingAndGlyphs">2600</text>
<text x="369" y="876" textLength="24" lengthAdjust="spacingAndGlyphs">2600</text>
<text x="528" y="876" textLength="24" lengthAdjust="spacingAndGlyphs">2600</text>
<text x="370" y="894" textLength="26" lengthAdjust="spacingAndGlyphs">7800</text>
<text x="114" y="627" transform="rotate(-90 114 627)" textLength="21" lengthAdjust="spacingAndGlyphs">2000</text>
<text x="114" y="752" transform="rotate(-90 114 752)" textLength="21" lengthAdjust="spacingAndGlyphs">2000</text>
<text x="97" y="690" transform="rotate(-90 97 690)" textLength="22" lengthAdjust="spacingAndGlyphs">5000</text>
<text x="659" y="627" transform="rotate(-90 659 627)" textLength="21" lengthAdjust="spacingAndGlyphs">2000</text>
<text x="659" y="752" transform="rotate(-90 659 752)" textLength="21" lengthAdjust="spacingAndGlyphs">2000</text>
<text x="683" y="690" transform="rotate(-90 683 690)" textLength="22" lengthAdjust="spacingAndGlyphs">5000</text>
</g>
<text x="310" y="969" font-size="28" class="wb" style="stroke-width:3" textLength="163" lengthAdjust="spacingAndGlyphs">地沟平面布置图</text>
<path d="M279 980H504" stroke="#0d5" stroke-width="8"/>
</g>

<!-- sheet 2: sections -->
<g transform="translate(840,495) scale(.3333)">
<!-- continuation of 1-1 -->
<path d="M0 186H22V195M0 200H48V220H62V254H30V222M0 222H62" class="wl"/>
<path d="M0 216H45" stroke="#f00" stroke-width="4"/>
<path d="M0 185H15V215M15 190H50" class="m"/>
<path d="M0 222H25V277H0M0 240H25" class="yl"/>
<path d="M30 255V333H95M0 300H30M30 333H95" class="lg"/><path d="M48 292H62M30 300V315" stroke="#0f0" stroke-width="7"/>
<text x="18" y="192" class="bg" textLength="36" lengthAdjust="spacingAndGlyphs">2Φ14</text>
<text x="18" y="322" class="bg" textLength="80" lengthAdjust="spacingAndGlyphs">4Φ14@200</text>

<!-- D-D -->
<g stroke="#8a8a50" stroke-width="3">
<rect x="160" y="30" width="28" height="130" fill="url(#h)"/>
<rect x="188" y="73" width="69" height="85" fill="url(#h)"/>
<rect x="195" y="158" width="175" height="29" fill="url(#h)"/>
<path d="M328 158V73H370V187" fill="url(#h)"/>
<path d="M355 85V158" fill="none"/>
</g>
<path d="M176 25V240" stroke="#f00" stroke-width="3"/>
<path d="M153 28H195" class="wl"/>
<path d="M115 208H233V183H195V160H155V183H115Z" class="wl" style="fill:#000"/>
<path d="M176 160V225" stroke="#f00" stroke-width="3"/>
<path d="M158 230V242M256 222V242M306 222V242M356 222V242M370 222V242M158 238H370" class="lg"/>
<path d="M160 236H185M216 236H228M286 236H300M336 236H348M356 236H370" stroke="#0f0" stroke-width="7"/>
<path d="M370 72H447M415 72V188M396 158H420M396 188H420M176 240V250" class="lg"/>
<path d="M412 110V122M412 160V185M373 72V80" stroke="#0f0" stroke-width="7"/>
<circle cx="174" cy="259" r="10" class="gl"/>
<text x="169" y="265" font-size="15" class="w">A</text>
<path d="M138 52H165M132 176H158M366 115H392M432 70H462" class="m"/>
<g class="bg">
<text x="142" y="50" textLength="20" lengthAdjust="spacingAndGlyphs">C20</text>
<text x="135" y="174" textLength="20" lengthAdjust="spacingAndGlyphs">C20</text>
<text x="374" y="113" textLength="20" lengthAdjust="spacingAndGlyphs">C20</text>
<text x="440" y="69" textLength="22" lengthAdjust="spacingAndGlyphs">C20</text>
</g>
<text x="270" y="275" font-size="24" class="wb" textLength="35" lengthAdjust="spacingAndGlyphs">D-D</text>
<path d="M237 281H347" stroke="#fff" stroke-width="8"/>

<!-- C-C -->
<g stroke="#8a8a50" stroke-width="3">
<path d="M140 313H237V395H150V330H140Z" fill="url(#h)"/>
<path d="M283 313H378V330H368V395H283Z" fill="url(#h)"/>
<rect x="130" y="421" width="260" height="29" fill="url(#h)"/>
</g>
<rect x="145" y="397" width="232" height="23" fill="none" stroke="#f00" stroke-width="4"/>
<path d="M150 402H372M150 415H372" stroke="#f00" stroke-width="4" stroke-dasharray="20 6"/>
<path d="M187 433H212V470H187ZM306 433H332V470H306Z" class="yl"/>
<path d="M128 480V494M186 480V494M212 480V494M282 480V494M332 480V494M392 480V494M128 490H392M388 313H437M409 313V450M390 432H412M390 450H412" class="lg"/>
<path d="M132 487H160M195 487H207M312 487H323M356 487H386" stroke="#0f0" stroke-width="7" stroke-dasharray="14 6"/>
<path d="M407 348V362M407 402V414M407 425V448M140 306V335M375 306V335" stroke="#0f0" stroke-width="5"/>
<path d="M126 355H155M365 355H392M160 466H190M282 466H310M118 390H145M243 390H278M244 390V420M425 310H455" class="m"/>
<g class="bg">
<text x="132" y="354" textLength="20" lengthAdjust="spacingAndGlyphs">C20</text>
<text x="372" y="354" textLength="18" lengthAdjust="spacingAndGlyphs">C20</text>
<text x="118" y="389" textLength="30" lengthAdjust="spacingAndGlyphs">4Φ16</text>
<text x="245" y="389" textLength="32" lengthAdjust="spacingAndGlyphs">4Φ16</text>
<text x="165" y="465" textLength="25" lengthAdjust="spacingAndGlyphs">C15</text>
<text x="285" y="465" textLength="25" lengthAdjust="spacingAndGlyphs">C15</text>
<text x="434" y="308" textLength="22" lengthAdjust="spacingAndGlyphs">C20</text>
</g>
<text x="235" y="520" font-size="24" class="wb" textLength="35" lengthAdjust="spacingAndGlyphs">C-C</text>
<path d="M201 527H315" stroke="#fff" stroke-width="8"/>

<!-- B-B -->
<g stroke="#8a8a50" stroke-width="3">
<path d="M78 556H137V640H92V572H78Z" fill="url(#h)"/>
<rect x="228" y="556" width="54" height="85" fill="url(#h)"/>
<path d="M360 556H418V572H405V640H360Z" fill="url(#h)"/>
<rect x="90" y="640" width="113" height="28" fill="url(#h)"/>
<rect x="193" y="660" width="235" height="32" fill="url(#h)"/>
</g>
<rect x="207" y="638" width="208" height="22" fill="#000" stroke="#f00" stroke-width="4"/>
<path d="M212 650H410" stroke="#f00" stroke-width="6" stroke-dasharray="22 6"/>
<path d="M252 672V712H278V672M362 672V712H390V672" class="yl"/>
<path d="M90 712V730M135 712V730M203 712V730M252 712V730M278 712V730M362 712V730M390 712V730M428 712V730M90 723H428" class="lg"/>
<path d="M92 721H104M114 721H126M158 721H170M208 721H225M250 721H262M315 721H328M368 721H386M395 721H408M416 721H428" stroke="#0f0" stroke-width="7"/>
<path d="M60 636H85M60 668H85M440 556H475M460 556V692M440 636H465M440 666H465M440 692H465" class="lg"/>
<path d="M58 640V665M458 592V602M458 640V686M75 555V575M420 555V575M395 610H403" stroke="#0f0" stroke-width="6"/>
<path d="M70 600H96M405 600H425M280 630H308M308 630V660M323 630H358M323 630V660M228 705H255M340 705H365M475 550H505" class="m"/>
<g class="bg">
<text x="72" y="598" textLength="20" lengthAdjust="spacingAndGlyphs">C20</text>
<text x="408" y="598" textLength="16" lengthAdjust="spacingAndGlyphs">C20</text>
<text x="280" y="628" textLength="28" lengthAdjust="spacingAndGlyphs">4Φ16</text>
<text x="323" y="628" textLength="34" lengthAdjust="spacingAndGlyphs">4Φ16</text>
<text x="232" y="704" textLength="22" lengthAdjust="spacingAndGlyphs">C15</text>
<text x="343" y="704" textLength="22" lengthAdjust="spacingAndGlyphs">C15</text>
<text x="484" y="549" textLength="20" lengthAdjust="spacingAndGlyphs">C20</text>
</g>
<text x="235" y="752" font-size="24" class="wb" textLength="35" lengthAdjust="spacingAndGlyphs">B-B</text>
<path d="M201 759H315" stroke="#ccc" stroke-width="7"/>

<!-- A-A -->
<g stroke="#8a8a50" stroke-width="3">
<path d="M100 796H155V880H108V815H100Z" fill="url(#h)"/>
<rect x="222" y="796" width="50" height="85" fill="url(#h)"/>
<rect x="363" y="796" width="35" height="85" fill="url(#h)"/>
<rect x="397" y="752" width="33" height="130" fill="url(#h)"/>
<rect x="88" y="904" width="220" height="28" fill="url(#h)"/>
<rect x="295" y="880" width="100" height="30" fill="url(#h)"/>
</g>
<rect x="100" y="880" width="195" height="24" fill="#000" stroke="#f00" stroke-width="4"/>
<path d="M105 892H290" stroke="#f00" stroke-width="8" stroke-dasharray="22 6"/>
<path d="M352 928H473V904H433V882H392V904H352Z" class="wl" style="fill:#000"/>
<path d="M412 750V950" stroke="#f00" stroke-width="3"/>
<path d="M393 751H432" class="wl"/>
<path d="M125 912V952H153V912M225 912V952H250V912" class="yl"/>
<path d="M88 950V968M140 950V968M195 950V968M250 950V968M295 950V968M345 950V968M428 950V968M88 963H428M28 797H75M55 797V930M30 880H75M30 904H75M30 918H75M30 932H75M90 805H110M412 950V975" class="lg"/>
<path d="M92 961H100M108 961H120M136 961H146M182 961H194M225 961H240M278 961H290M305 961H320M330 961H342M378 961H392M412 961H425" stroke="#0f0" stroke-width="7"/>
<path d="M52 830V845M52 885V900M52 908V930M337 880V905M110 851H130M95 795V820" stroke="#0f0" stroke-width="6"/>
<circle cx="412" cy="985" r="9" class="gl"/>
<text x="407" y="990" font-size="15" class="w">B</text>
<path d="M186 868V900" stroke="#f0f" stroke-width="6"/>
<path d="M10 790H38M85 842H108M102 948H130M200 948H230M423 775H450M432 894H445M155 870H222M102 775H130V800" class="m"/>
<g class="bg">
<text x="14" y="789" textLength="22" lengthAdjust="spacingAndGlyphs">C20</text>
<text x="90" y="840" textLength="16" lengthAdjust="spacingAndGlyphs">C20</text>
<text x="104" y="785" textLength="26" lengthAdjust="spacingAndGlyphs">Φ14</text>
<text x="155" y="868" textLength="65" lengthAdjust="spacingAndGlyphs">4Φ16@200</text>
<text x="105" y="946" textLength="22" lengthAdjust="spacingAndGlyphs">C15</text>
<text x="204" y="946" textLength="22" lengthAdjust="spacingAndGlyphs">C15</text>
<text x="432" y="773" textLength="16" lengthAdjust="spacingAndGlyphs">C20</text>
<text x="438" y="892" textLength="18" lengthAdjust="spacingAndGlyphs">C20</text>
</g>
<text x="245" y="993" font-size="24" class="wb" textLength="35" lengthAdjust="spacingAndGlyphs">A-A</text>
<path d="M201 997H315" stroke="#ccc" stroke-width="8"/>
</g>

<!-- sheet 3: plan -->
<g transform="translate(590,850) scale(.3333)">
<path d="M183 50V120M337 50V120M496 50V120M655 50V120M183 70H655M183 88H655M183 505V570M337 505V570M496 505V570M655 505V570M183 535H655M183 552H655M36 186H107M36 433H107M57 186V433M75 186V433M720 186H780M720 433H780M748 186V433M770 186V433" class="gl"/>
<path d="M183 142H655M183 482H655M183 135V150M228 135V155M290 135V165M337 135V165M385 135V165M450 135V165M496 135V165M543 135V165M610 135V165M655 135V150M183 472V487M228 455V487M290 455V487M337 455V487M385 455V487M450 455V487M496 455V487M543 455V487M610 455V487M655 472V487M137 262V348M137 262H165M137 348H165M215 262H228V298M205 340H225M200 348H225M650 365H680V378M670 375V435M685 390V435M660 390H700" class="lg"/>
<path d="M198 140H655" stroke="#0f0" stroke-width="8" stroke-dasharray="16 32"/>
<path d="M198 475H655" stroke="#0f0" stroke-width="8" stroke-dasharray="16 38"/>
<path d="M137 278V295M137 320V335M215 316V332M222 258V272M222 340V352M212 280V298M172 358V362M694 405V420M674 322H684" stroke="#0f0" stroke-width="8"/>
<path d="M228 158H290V172M385 158H450V172M543 158H610V172M228 458H290V448M385 458H450V448M543 458H610V448M150 255H165M150 345H160" class="c"/>
<rect x="166" y="172" width="504" height="276" class="c"/>
<path d="M332 186V433M340 186V433M490 186V433M500 186V433M180 307H658M180 315H658" class="c"/>
<path d="M180 241H668M169 388H668M241 186V433M617 186V433" class="r"/>
<path d="M183 186V433M655 186V433" stroke="#f00" stroke-width="5"/>
<path d="M183 186H655M183 433H655" stroke="#f00" stroke-width="7"/>
<path d="M183 181H655M183 439H655" stroke="#b0e080" stroke-width="3"/>
<path d="M178 200V430" stroke="#8a8a50" stroke-width="3"/>
<path d="M170 176L195 200M175 188L190 180M170 445L205 410M175 430L190 445M655 176L635 205M640 200L660 180M630 420L665 445M640 440L660 420" stroke="#f00" stroke-width="6"/>
<path d="M463 180V290M465 250V365" stroke="#777" stroke-width="7"/>
<path d="M470 380V450" stroke="#777" stroke-width="10"/>
<path d="M252 150V192M252 425V470M150 320H188M645 407H688" stroke="#6a8ac0" stroke-width="6"/>
<path d="M168 204H195M642 290H670M337 298V322M495 298V322" stroke="#f0f" stroke-width="6"/>
<path d="M183 265V268M183 350V345" stroke="#f00" stroke-width="6"/>
<g fill="#000" stroke="#f55" stroke-width="3">
<rect x="331" y="181" width="10" height="10"/><rect x="490" y="181" width="10" height="10"/><rect x="331" y="430" width="10" height="10"/><rect x="490" y="430" width="10" height="10"/><rect x="650" y="305" width="10" height="10"/><rect x="178" y="262" width="9" height="9"/>
</g>
<g class="bl">
<text x="266" y="207" textLength="36" lengthAdjust="spacingAndGlyphs">LL1</text>
<text x="400" y="207" textLength="36" lengthAdjust="spacingAndGlyphs">LL2</text>
<text x="559" y="207" textLength="36" lengthAdjust="spacingAndGlyphs">LL3</text>
<text x="263" y="428" textLength="36" lengthAdjust="spacingAndGlyphs">LL4</text>
<text x="398" y="428" textLength="36" lengthAdjust="spacingAndGlyphs">LL5</text>
<text x="559" y="428" textLength="36" lengthAdjust="spacingAndGlyphs">LL6</text>
<text x="204" y="236" transform="rotate(-90 204 236)" textLength="34" lengthAdjust="spacingAndGlyphs">LL7</text>
<text x="202" y="303" transform="rotate(-90 202 303)" textLength="38" lengthAdjust="spacingAndGlyphs">LL8</text>
<text x="204" y="410" transform="rotate(-90 204 410)" textLength="34" lengthAdjust="spacingAndGlyphs">LL9</text>
<text x="648" y="280" transform="rotate(-90 648 280)" textLength="34" lengthAdjust="spacingAndGlyphs">LL10</text>
<text x="648" y="384" transform="rotate(-90 648 384)" textLength="30" lengthAdjust="spacingAndGlyphs">LL11</text>
<text x="390" y="272" textLength="34" lengthAdjust="spacingAndGlyphs">LL12</text>
<text x="366" y="362" transform="rotate(-90 366 362)" textLength="34" lengthAdjust="spacingAndGlyphs">LL13</text>
<text x="525" y="362" transform="rotate(-90 525 362)" textLength="34" lengthAdjust="spacingAndGlyphs">LL14</text>
</g>
<text x="392" y="298" font-size="18" fill="#4a6a90" stroke="#4a6a90" stroke-width="6" textLength="42" lengthAdjust="spacingAndGlyphs">板厚120</text>
<path d="M388 255V310" stroke="#8a8a50" stroke-width="2"/>
<path d="M340 365H358M498 365H515" stroke="#0a5fb8" stroke-width="3"/>
<g class="lb">
<text x="403" y="240" textLength="38" lengthAdjust="spacingAndGlyphs">h=120</text>
<text x="403" y="387" textLength="38" lengthAdjust="spacingAndGlyphs">h=120</text>
<text x="345" y="298" textLength="24" lengthAdjust="spacingAndGlyphs">h=</text>
<text x="503" y="298" textLength="24" lengthAdjust="spacingAndGlyphs">h=</text>
<text x="666" y="156" textLength="45" lengthAdjust="spacingAndGlyphs">-0.300</text>
</g>
<path d="M662 190V158H668M552 183H600" class="wl"/>
<rect x="606" y="258" width="9" height="36" fill="#80dfff"/><rect x="231" y="258" width="9" height="38" fill="#80dfff"/>
<g class="bg">
<text x="473" y="166" textLength="20" lengthAdjust="spacingAndGlyphs">C20</text>
<text x="495" y="464" textLength="20" lengthAdjust="spacingAndGlyphs">C20</text>
<text x="312" y="306" textLength="16" lengthAdjust="spacingAndGlyphs">h</text>
<text x="470" y="306" textLength="16" lengthAdjust="spacingAndGlyphs">h</text>
<text x="137" y="258" textLength="10" lengthAdjust="spacingAndGlyphs">h</text>
<text x="690" y="384" textLength="12" lengthAdjust="spacingAndGlyphs">h</text>
</g>
<g fill="none" stroke="#6a6ad0" stroke-width="3">
<circle cx="252" cy="115" r="16"/><circle cx="113" cy="318" r="16"/><circle cx="731" cy="405" r="16"/><circle cx="250" cy="502" r="16"/>
</g>
<g class="gl">
<circle cx="183" cy="42" r="8"/><circle cx="337" cy="42" r="8"/><circle cx="496" cy="42" r="8"/><circle cx="655" cy="42" r="8"/>
<circle cx="183" cy="581" r="8"/><circle cx="337" cy="581" r="8"/><circle cx="496" cy="581" r="8"/><circle cx="655" cy="581" r="8"/>
<circle cx="31" cy="186" r="8"/><circle cx="31" cy="433" r="8"/>
</g>
<g font-size="15" class="w" text-anchor="middle">
<text x="183" y="48">1</text><text x="337" y="48">2</text><text x="496" y="48">3</text><text x="655" y="48">4</text>
<text x="183" y="587">1</text><text x="337" y="587">2</text><text x="496" y="587">3</text><text x="655" y="587">4</text>
<text x="31" y="192">B</text><text x="31" y="439">A</text>
</g>
<g font-size="15" class="wb">
<text x="406" y="69" textLength="25" lengthAdjust="spacingAndGlyphs">7800</text>
<text x="249" y="87" textLength="21" lengthAdjust="spacingAndGlyphs">2600</text>
<text x="406" y="87" textLength="21" lengthAdjust="spacingAndGlyphs">2600</text>
<text x="565" y="87" textLength="23" lengthAdjust="spacingAndGlyphs">2600</text>
<text x="249" y="533" textLength="21" lengthAdjust="spacingAndGlyphs">2600</text>
<text x="406" y="533" textLength="22" lengthAdjust="spacingAndGlyphs">2600</text>
<text x="565" y="533" textLength="21" lengthAdjust="spacingAndGlyphs">2600</text>
<text x="406" y="553" textLength="25" lengthAdjust="spacingAndGlyphs">7800</text>
<text x="76" y="258" transform="rotate(-90 76 258)" textLength="22" lengthAdjust="spacingAndGlyphs">2000</text>
<text x="76" y="383" transform="rotate(-90 76 383)" textLength="22" lengthAdjust="spacingAndGlyphs">2000</text>
<text x="57" y="320" transform="rotate(-90 57 320)" textLength="20" lengthAdjust="spacingAndGlyphs">5000</text>
<text x="748" y="258" transform="rotate(-90 748 258)" textLength="22" lengthAdjust="spacingAndGlyphs">2000</text>
<text x="748" y="383" transform="rotate(-90 748 383)" textLength="22" lengthAdjust="spacingAndGlyphs">2000</text>
<text x="768" y="320" transform="rotate(-90 768 320)" textLength="20" lengthAdjust="spacingAndGlyphs">5000</text>
</g>
<text x="318" y="631" font-size="28" class="wb" style="stroke-width:3" textLength="165" lengthAdjust="spacingAndGlyphs">屋面结构平面图</text>
<path d="M294 640H516" stroke="#0f0" stroke-width="8"/>
<g font-size="16" class="w">
<text x="268" y="668" textLength="300" lengthAdjust="spacingAndGlyphs">注:1.板厚除图注明外,板厚均为120厚,未注明梁为QL-1,</text>
<text x="280" y="686" textLength="212" lengthAdjust="spacingAndGlyphs">2.板面筋除图注明外,板底筋均为Φ8@200,</text>
<text x="280" y="704" textLength="145" lengthAdjust="spacingAndGlyphs">3.屋面找坡做法详见建施说明.</text>
</g>

<!-- TL-1 -->
<rect x="125" y="645" width="33" height="85" class="c"/>
<rect x="128" y="647" width="27" height="35" fill="none" stroke="#f00" stroke-width="4"/>
<rect x="128" y="700" width="27" height="26" fill="none" stroke="#f00" stroke-width="4"/>
<path d="M142 647V726M128 715H155" class="r"/>
<path d="M95 658L110 645H125M95 658H108M160 645L180 665H160M125 730V752H160V730" class="c"/>
<path d="M130 635H185M130 635V645M155 635V645M160 675H205M100 708H130V680M160 690H205M130 733H188M130 750V745H158V750" class="m"/>
<path d="M60 643H125M76 643V727H102M125 754H165" class="lg"/>
<path d="M73 678V692M127 747H162" stroke="#0f0" stroke-width="7"/>
<g class="bg">
<text x="36" y="638" textLength="30" lengthAdjust="spacingAndGlyphs">C20</text>
<text x="161" y="633" textLength="24" lengthAdjust="spacingAndGlyphs">2Φ</text>
<text x="163" y="672" textLength="42" lengthAdjust="spacingAndGlyphs">2Φ14</text>
<text x="96" y="685" textLength="22" lengthAdjust="spacingAndGlyphs">Φ8</text>
<text x="168" y="690" textLength="30" lengthAdjust="spacingAndGlyphs">Φ8</text>
<text x="96" y="705" textLength="22" lengthAdjust="spacingAndGlyphs">2Φ</text>
<text x="165" y="736" textLength="22" lengthAdjust="spacingAndGlyphs">C20</text>
</g>
<text x="125" y="779" font-size="24" class="wb" textLength="40" lengthAdjust="spacingAndGlyphs">TL-1</text>
<path d="M111 782H174" stroke="#0f0" stroke-width="5"/>

<!-- Z details -->
<g fill="none">
<rect x="43" y="838" width="49" height="30" class="c"/>
<rect x="65" y="840" width="26" height="27" stroke="#f00" stroke-width="4"/><path d="M78 840V867M65 853H91" class="r"/>
<rect x="155" y="838" width="60" height="30" class="c"/>
<rect x="180" y="840" width="33" height="27" stroke="#f00" stroke-width="4"/><path d="M196 840V867M180 853H213" class="r"/>
<rect x="283" y="826" width="49" height="42" class="c"/>
<rect x="303" y="828" width="28" height="39" stroke="#f00" stroke-width="4"/><path d="M317 828V867M303 846H331" class="r"/>
</g>
<path d="M62 872V895M92 872V895M62 890H92M177 872V895M215 872V895M177 890H215M301 872V895M332 872V895M301 890H332M283 824H275V868" class="lg"/>
<path d="M66 889H88M183 889H210M304 889H330M46 845V852M46 858V864M157 845V852M157 858V864M280 830V840M280 855V865" stroke="#0f0" stroke-width="7"/>
<path d="M92 848H132M215 848H252M332 838H375M342 838V810H368" class="m"/>
<g class="bg">
<text x="102" y="846" textLength="24" lengthAdjust="spacingAndGlyphs">4Φ</text>
<text x="222" y="846" textLength="24" lengthAdjust="spacingAndGlyphs">4Φ</text>
<text x="342" y="810" textLength="18" lengthAdjust="spacingAndGlyphs">4Φ</text>
<text x="342" y="835" textLength="28" lengthAdjust="spacingAndGlyphs">4Φ</text>
<text x="60" y="945" textLength="27" lengthAdjust="spacingAndGlyphs">C20</text>
<text x="180" y="945" textLength="27" lengthAdjust="spacingAndGlyphs">C20</text>
<text x="302" y="945" textLength="27" lengthAdjust="spacingAndGlyphs">C20</text>
</g>
<text x="62" y="926" font-size="24" class="wb" textLength="28" lengthAdjust="spacingAndGlyphs">Z-1</text>
<text x="180" y="926" font-size="24" class="wb" textLength="28" lengthAdjust="spacingAndGlyphs">Z-2</text>
<text x="300" y="926" font-size="24" class="wb" textLength="28" lengthAdjust="spacingAndGlyphs">Z-3</text>
<path d="M54 932H102M171 932H222M291 932H342M435 932H504M573 932H642M723 932H780" stroke="#0f0" stroke-width="6"/>
<!-- GL-1 -->
<rect x="453" y="848" width="29" height="50" class="c"/>
<rect x="456" y="850" width="23" height="27" fill="none" stroke="#f00" stroke-width="4"/>
<path d="M467 850V877" class="r"/>
<path d="M425 848H453M482 848H515M415 880H455M482 835H500" class="m"/>
<path d="M425 850V880M425 848H455M453 898V915H482V898" class="lg"/>
<path d="M427 856V870M457 908H480" stroke="#0f0" stroke-width="7"/>
<text x="484" y="844" class="bg" textLength="30" lengthAdjust="spacingAndGlyphs">2Φ</text>
<text x="396" y="897" font-size="20" class="bg" textLength="20" lengthAdjust="spacingAndGlyphs">C</text>
<text x="447" y="926" font-size="24" class="wb" textLength="43" lengthAdjust="spacingAndGlyphs">QL-1</text>
<!-- GL-1a -->
<rect x="592" y="838" width="27" height="65" class="c"/>
<rect x="594" y="842" width="22" height="32" fill="none" stroke="#f00" stroke-width="4"/>
<path d="M605 842V874" class="r"/>
<path d="M590 832H650M620 852H660M612 882H650M590 878H560V885M620 838H630" class="m"/>
<path d="M565 838H592M565 838V880M590 880H565M600 903V915H625V903" class="lg"/>
<path d="M564 852V866M602 908H622" stroke="#0f0" stroke-width="7"/>
<text x="628" y="835" class="bg" textLength="24" lengthAdjust="spacingAndGlyphs">2Φ</text>
<text x="622" y="860" class="bg" textLength="38" lengthAdjust="spacingAndGlyphs">2Φ14</text>
<text x="534" y="890" class="bg" textLength="24" lengthAdjust="spacingAndGlyphs">C20</text>
<text x="583" y="927" font-size="24" class="wb" textLength="50" lengthAdjust="spacingAndGlyphs">QL-1a</text>
<!-- WL-1 -->
<rect x="742" y="848" width="38" height="50" class="c"/>
<rect x="744" y="850" width="25" height="25" fill="none" stroke="#f00" stroke-width="4"/>
<path d="M756 850V875" class="r"/>
<path d="M682 842H725M770 852H790" class="m"/>
<path d="M715 847H742M715 847V880H742M745 898V915H775V898" class="lg"/>
<path d="M714 856V868M748 908H772" stroke="#0f0" stroke-width="7"/>
<text x="684" y="840" class="bg" textLength="16" lengthAdjust="spacingAndGlyphs">C</text>
</g>

<!-- sheet 3: details -->
<g transform="translate(840,850) scale(.3333)">
<use href="#det1"/>
<use href="#det1" transform="translate(552,0) scale(-1,1)"/>
<use href="#det3"/>
<use href="#det3" transform="translate(197,0)"/>
<path d="M-55 186H30M-55 433H30M19 186V433" class="gl"/>
<circle cx="44" cy="186" r="9" class="gl"/><circle cx="44" cy="433" r="9" class="gl"/>
<text x="39" y="192" font-size="15" class="w">B</text><text x="39" y="439" font-size="15" class="w">A</text>
<text x="16" y="323" font-size="15" class="wb" transform="rotate(-90 16 323)" textLength="26" lengthAdjust="spacingAndGlyphs">5000</text>
<g fill="none" stroke="#0ff" stroke-width="5">
<circle cx="196" cy="432" r="20"/><circle cx="354" cy="432" r="20"/><circle cx="157" cy="787" r="20"/><circle cx="353" cy="787" r="20"/>
</g>
<g fill="#0ff" font-size="34" text-anchor="middle">
<text x="196" y="444">1</text><text x="354" y="444">2</text><text x="157" y="799">3</text><text x="353" y="799">4</text>
</g>
<g font-size="15" class="w" text-anchor="middle">
<text x="196" y="383">A</text><text x="356" y="383">B</text><text x="155" y="736">1</text><text x="352" y="736">4</text>
</g>
<!-- labels 1 & 2 -->
<g class="bg">
<text x="106" y="112" textLength="18" lengthAdjust="spacingAndGlyphs">C20</text>
<text x="168" y="100" textLength="24" lengthAdjust="spacingAndGlyphs">2Φ</text>
<text x="218" y="152" textLength="26" lengthAdjust="spacingAndGlyphs">2Φ</text>
<text x="218" y="164" textLength="28" lengthAdjust="spacingAndGlyphs">2Φ</text>
<text x="90" y="170" textLength="36" lengthAdjust="spacingAndGlyphs">2Φ14</text>
<text x="224" y="198" textLength="20" lengthAdjust="spacingAndGlyphs">C</text>
<text x="44" y="206" textLength="16" lengthAdjust="spacingAndGlyphs">C</text>
<text x="98" y="204" textLength="18" lengthAdjust="spacingAndGlyphs">Φ</text>
<text x="126" y="204" textLength="32" lengthAdjust="spacingAndGlyphs">2Φ</text>
<text x="152" y="262" textLength="22" lengthAdjust="spacingAndGlyphs">2Φ</text>
<text x="150" y="282" textLength="26" lengthAdjust="spacingAndGlyphs">2Φ</text>
<text x="238" y="304" textLength="20" lengthAdjust="spacingAndGlyphs">C</text>
<text x="328" y="108" textLength="26" lengthAdjust="spacingAndGlyphs">2Φ</text>
<text x="436" y="102" textLength="18" lengthAdjust="spacingAndGlyphs">C20</text>
<text x="370" y="138" textLength="32" lengthAdjust="spacingAndGlyphs">2Φ</text>
<text x="372" y="164" textLength="30" lengthAdjust="spacingAndGlyphs">2Φ</text>
<text x="426" y="170" textLength="36" lengthAdjust="spacingAndGlyphs">2Φ14</text>
<text x="490" y="206" textLength="18" lengthAdjust="spacingAndGlyphs">C</text>
<text x="306" y="204" textLength="22" lengthAdjust="spacingAndGlyphs">Φ</text>
<text x="394" y="204" textLength="32" lengthAdjust="spacingAndGlyphs">2Φ</text>
<text x="380" y="264" textLength="22" lengthAdjust="spacingAndGlyphs">2Φ</text>
<text x="376" y="285" textLength="28" lengthAdjust="spacingAndGlyphs">2Φ</text>
<text x="294" y="304" textLength="18" lengthAdjust="spacingAndGlyphs">C</text>
<text x="120" y="482" textLength="24" lengthAdjust="spacingAndGlyphs">2Φ</text>
<text x="318" y="482" textLength="24" lengthAdjust="spacingAndGlyphs">2Φ</text>
<text x="250" y="485" textLength="38" lengthAdjust="spacingAndGlyphs">Φ8@150</text>
<text x="447" y="485" textLength="38" lengthAdjust="spacingAndGlyphs">Φ8@150</text>
<text x="192" y="598" textLength="20" lengthAdjust="spacingAndGlyphs">2Φ</text>
<text x="186" y="614" textLength="28" lengthAdjust="spacingAndGlyphs">2Φ</text>
<text x="388" y="600" textLength="20" lengthAdjust="spacingAndGlyphs">2Φ</text>
<text x="384" y="615" textLength="28" lengthAdjust="spacingAndGlyphs">2Φ</text>
<text x="230" y="624" textLength="30" lengthAdjust="spacingAndGlyphs">2Φ</text>
<text x="427" y="624" textLength="30" lengthAdjust="spacingAndGlyphs">2Φ</text>
<text x="195" y="660" textLength="32" lengthAdjust="spacingAndGlyphs">Φ8</text>
<text x="392" y="660" textLength="32" lengthAdjust="spacingAndGlyphs">Φ8</text>
<text x="94" y="662" textLength="18" lengthAdjust="spacingAndGlyphs">C</text>
<text x="291" y="662" textLength="18" lengthAdjust="spacingAndGlyphs">C</text>
</g>
<path d="M238 480H250M120 490H145M318 490H345M107 115L130 118M178 100H200" class="m"/>
<!-- WL-1 tail + WL-2 -->
<path d="M0 850H28L40 835M0 840H55" class="m"/>
<path d="M0 850H30V862M28 862L20 870" class="c"/>
<path d="M0 850H20V875H0" fill="none" stroke="#f00" stroke-width="4"/>
<path d="M0 875V898M22 875V898M0 905H22" class="lg"/>
<text x="18" y="835" class="bg" textLength="26" lengthAdjust="spacingAndGlyphs">2Φ</text>
<text x="-17" y="926" font-size="24" class="wb" textLength="54" lengthAdjust="spacingAndGlyphs">WL-1</text>
<path d="M0 932H42" stroke="#0f0" stroke-width="6"/>
<path d="M122 838H165V890H135V842M122 838L130 858H135" class="c"/>
<rect x="136" y="842" width="25" height="35" fill="none" stroke="#f00" stroke-width="4"/>
<path d="M148 842V877" class="r"/>
<path d="M72 838H122M162 860H210M165 850H178" class="m"/>
<path d="M90 842H135M108 842V880H135M135 890V908H165V890" class="lg"/>
<path d="M107 852V866M136 895H162" stroke="#0f0" stroke-width="7"/>
<text x="74" y="834" class="bg" textLength="18" lengthAdjust="spacingAndGlyphs">C</text>
<text x="178" y="860" class="bg" textLength="28" lengthAdjust="spacingAndGlyphs">2Φ</text>
<text x="126" y="926" font-size="24" class="wb" textLength="54" lengthAdjust="spacingAndGlyphs">WL-2</text>
<path d="M114 932H186" stroke="#0f0" stroke-width="6"/>
</g>
</svg>
</body></html>
